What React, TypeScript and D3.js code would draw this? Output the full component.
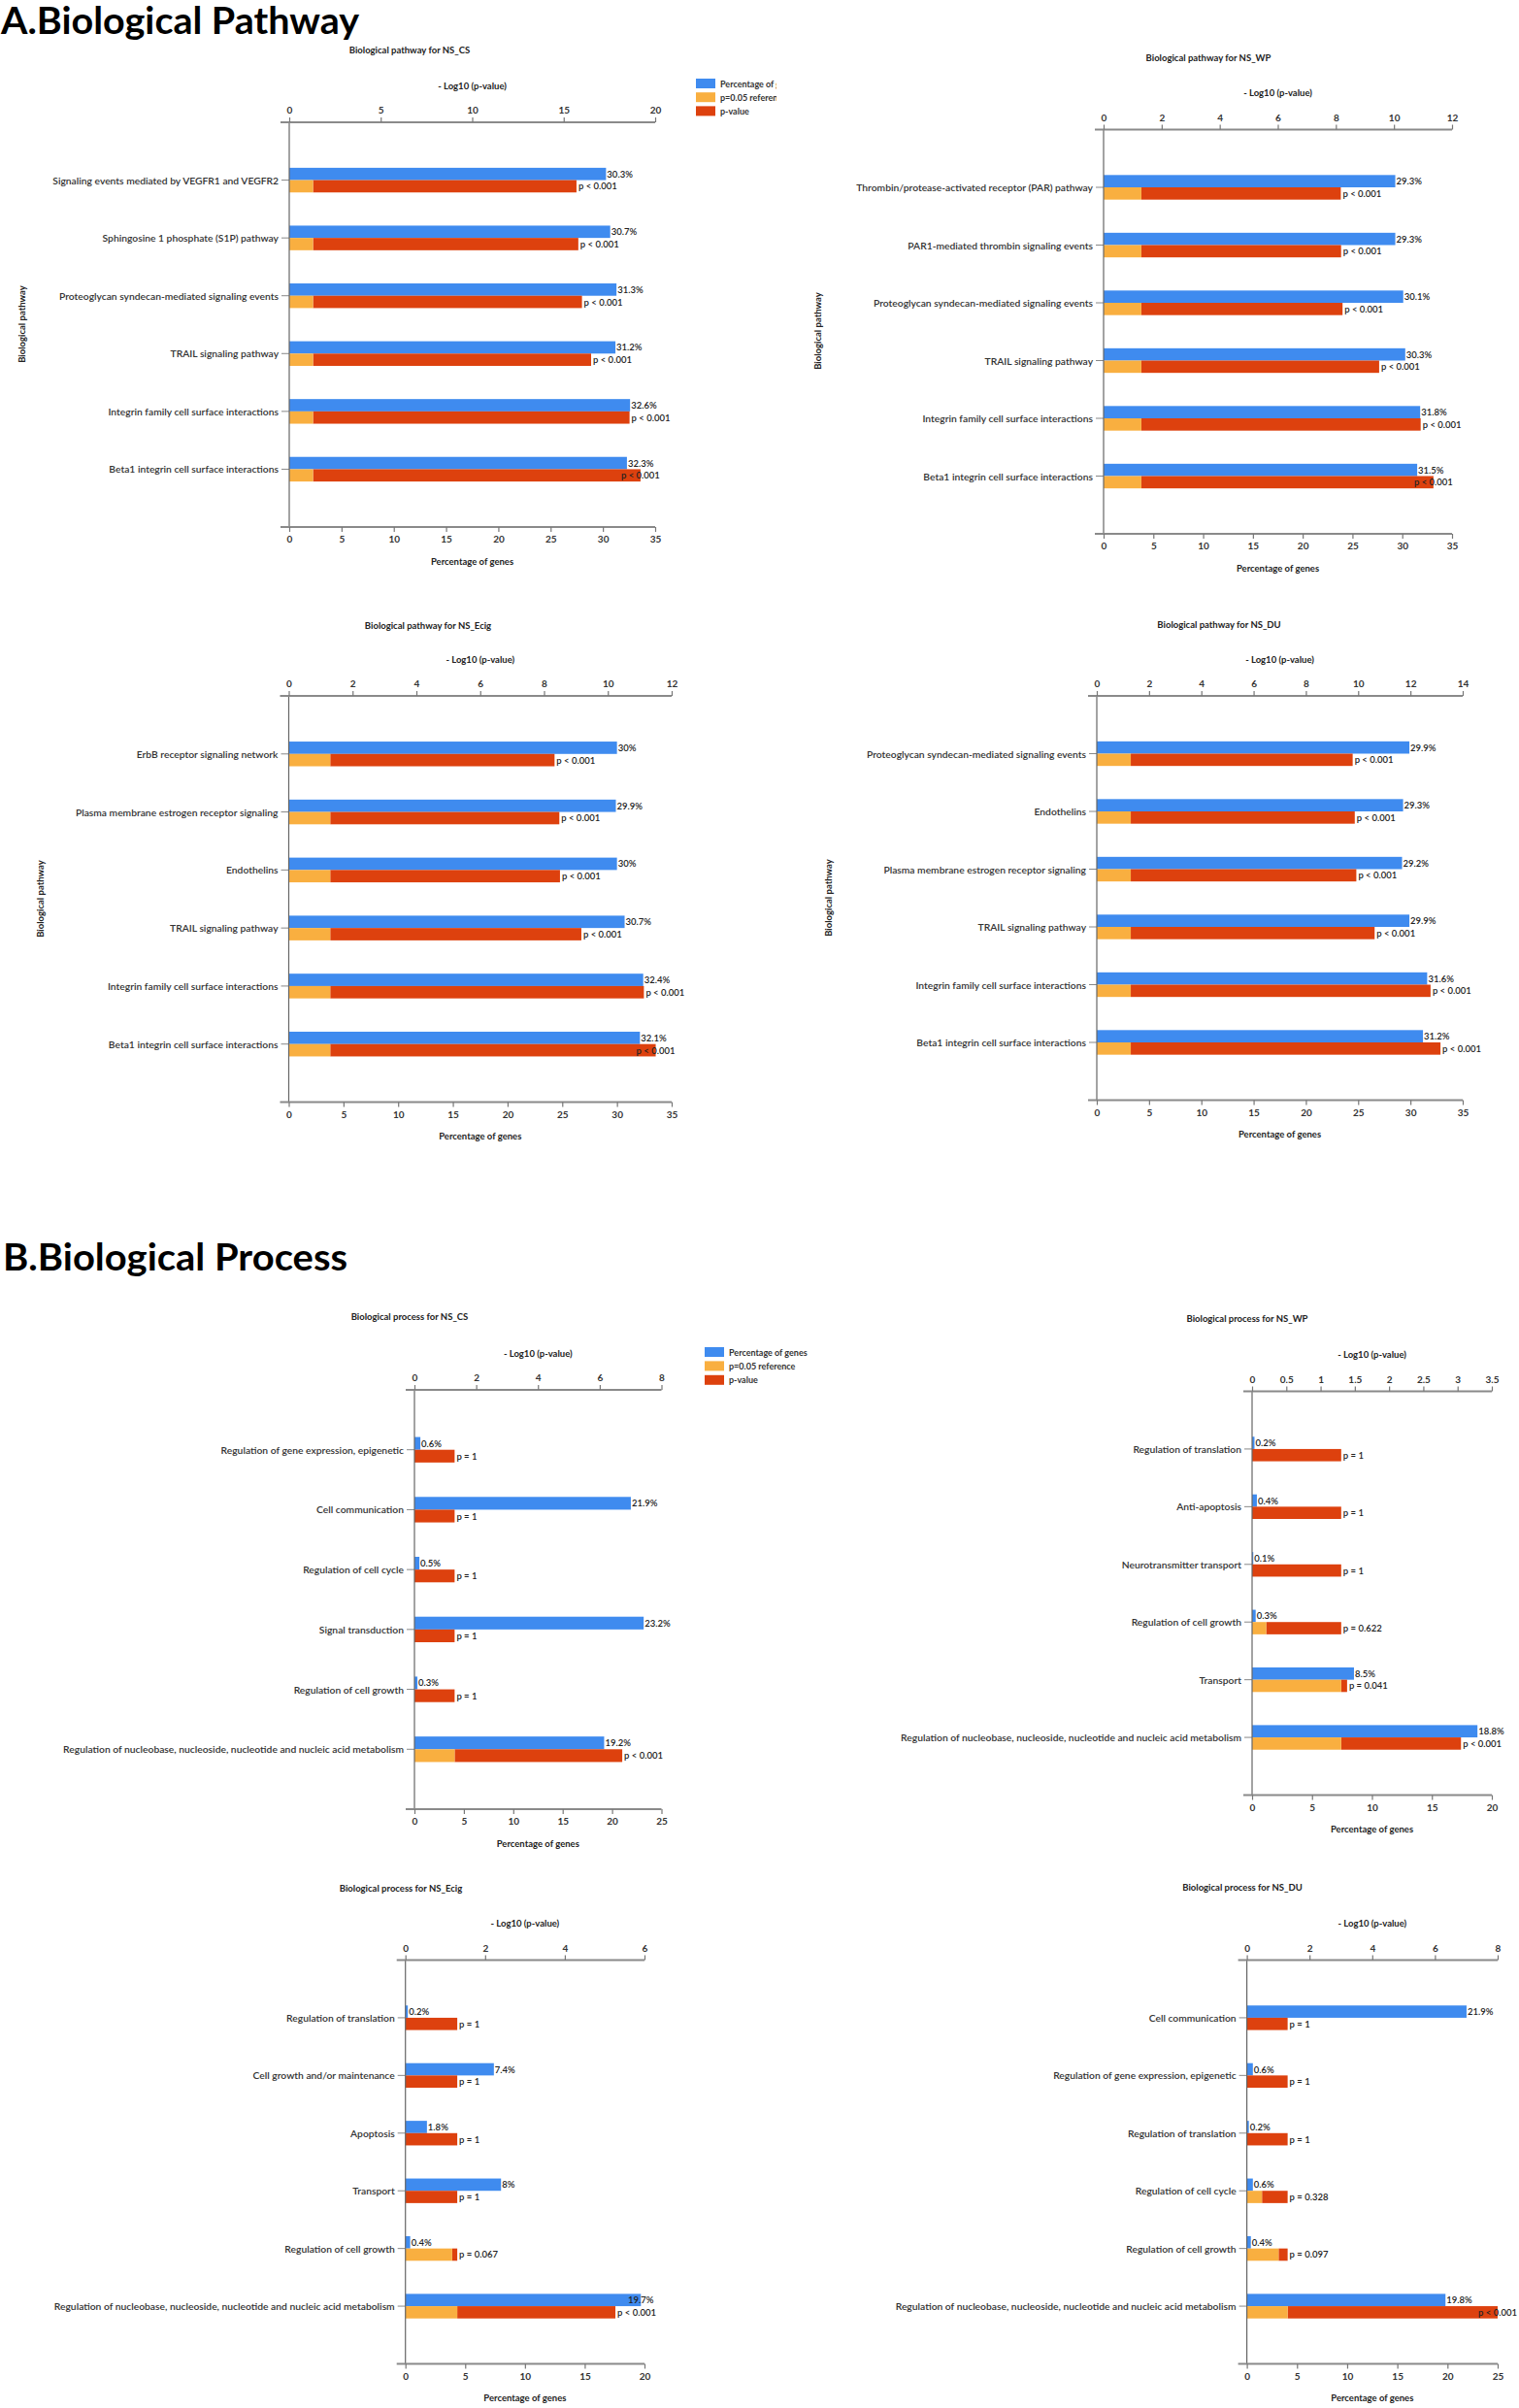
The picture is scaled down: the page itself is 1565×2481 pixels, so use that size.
import React, { useEffect, useRef } from "react";
import * as d3 from "d3";

const FONT = "Lato, 'Open Sans', sans-serif";
const REF = -Math.log10(0.05);

const BLUE = "#3F8BEF";
const ORANGE = "#F9AF40";
const RED = "#DD410E";

// ---------- DATA ----------
const pathCsTitle = "Biological pathway for NS_CS";
const pathCsCategories = [
  "Signaling events mediated by VEGFR1 and VEGFR2",
  "Sphingosine 1 phosphate (S1P) pathway",
  "Proteoglycan syndecan-mediated signaling events",
  "TRAIL signaling pathway",
  "Integrin family cell surface interactions",
  "Beta1 integrin cell surface interactions",
];
const pathCsPercent = [30.3, 30.7, 31.3, 31.2, 32.6, 32.3];
const pathCsLogP = [15.7, 15.8, 16.0, 16.5, 18.6, 19.2];
const pathCsPLabels = ["p < 0.001", "p < 0.001", "p < 0.001", "p < 0.001", "p < 0.001", "p < 0.001"];

const pathWpTitle = "Biological pathway for NS_WP";
const pathWpCategories = [
  "Thrombin/protease-activated receptor (PAR) pathway",
  "PAR1-mediated thrombin signaling events",
  "Proteoglycan syndecan-mediated signaling events",
  "TRAIL signaling pathway",
  "Integrin family cell surface interactions",
  "Beta1 integrin cell surface interactions",
];
const pathWpPercent = [29.3, 29.3, 30.1, 30.3, 31.8, 31.5];
const pathWpLogP = [8.17, 8.18, 8.23, 9.49, 10.92, 11.36];
const pathWpPLabels = ["p < 0.001", "p < 0.001", "p < 0.001", "p < 0.001", "p < 0.001", "p < 0.001"];

const pathEcigTitle = "Biological pathway for NS_Ecig";
const pathEcigCategories = [
  "ErbB receptor signaling network",
  "Plasma membrane estrogen receptor signaling",
  "Endothelins",
  "TRAIL signaling pathway",
  "Integrin family cell surface interactions",
  "Beta1 integrin cell surface interactions",
];
const pathEcigPercent = [30, 29.9, 30, 30.7, 32.4, 32.1];
const pathEcigLogP = [8.33, 8.48, 8.5, 9.17, 11.13, 11.5];
const pathEcigPLabels = ["p < 0.001", "p < 0.001", "p < 0.001", "p < 0.001", "p < 0.001", "p < 0.001"];

const pathDuTitle = "Biological pathway for NS_DU";
const pathDuCategories = [
  "Proteoglycan syndecan-mediated signaling events",
  "Endothelins",
  "Plasma membrane estrogen receptor signaling",
  "TRAIL signaling pathway",
  "Integrin family cell surface interactions",
  "Beta1 integrin cell surface interactions",
];
const pathDuPercent = [29.9, 29.3, 29.2, 29.9, 31.6, 31.2];
const pathDuLogP = [9.79, 9.87, 9.93, 10.63, 12.77, 13.15];
const pathDuPLabels = ["p < 0.001", "p < 0.001", "p < 0.001", "p < 0.001", "p < 0.001", "p < 0.001"];

const NUCLEO = "Regulation of nucleobase, nucleoside, nucleotide and nucleic acid metabolism";

const procCsTitle = "Biological process for NS_CS";
const procCsCategories = [
  "Regulation of gene expression, epigenetic",
  "Cell communication",
  "Regulation of cell cycle",
  "Signal transduction",
  "Regulation of cell growth",
  NUCLEO,
];
const procCsPercent = [0.6, 21.9, 0.5, 23.2, 0.3, 19.2];
const procCsLogP = [0, 0, 0, 0, 0, 6.73];
const procCsPLabels = ["p = 1", "p = 1", "p = 1", "p = 1", "p = 1", "p < 0.001"];

const procWpTitle = "Biological process for NS_WP";
const procWpCategories = [
  "Regulation of translation",
  "Anti-apoptosis",
  "Neurotransmitter transport",
  "Regulation of cell growth",
  "Transport",
  NUCLEO,
];
const procWpPercent = [0.2, 0.4, 0.1, 0.3, 8.5, 18.8];
const procWpLogP = [0, 0, 0, 0.206, 1.387, 3.05];
const procWpPLabels = ["p = 1", "p = 1", "p = 1", "p = 0.622", "p = 0.041", "p < 0.001"];

const procEcigTitle = "Biological process for NS_Ecig";
const procEcigCategories = [
  "Regulation of translation",
  "Cell growth and/or maintenance",
  "Apoptosis",
  "Transport",
  "Regulation of cell growth",
  NUCLEO,
];
const procEcigPercent = [0.2, 7.4, 1.8, 8, 0.4, 19.7];
const procEcigLogP = [0, 0, 0, 0, 1.174, 5.27];
const procEcigPLabels = ["p = 1", "p = 1", "p = 1", "p = 1", "p = 0.067", "p < 0.001"];

const procDuTitle = "Biological process for NS_DU";
const procDuCategories = [
  "Cell communication",
  "Regulation of gene expression, epigenetic",
  "Regulation of translation",
  "Regulation of cell cycle",
  "Regulation of cell growth",
  NUCLEO,
];
const procDuPercent = [21.9, 0.6, 0.2, 0.6, 0.4, 19.8];
const procDuLogP = [0, 0, 0, 0.484, 1.013, 8.0];
const procDuPLabels = ["p = 1", "p = 1", "p = 1", "p = 0.328", "p = 0.097", "p < 0.001"];

const legendLabels = ["Percentage of genes", "p=0.05 reference", "p-value"];
const legendColors = [BLUE, ORANGE, RED];

const panelData = [
  { title: pathCsTitle, categories: pathCsCategories, percent: pathCsPercent, logp: pathCsLogP, plabels: pathCsPLabels, yTitle: "Biological pathway" },
  { title: pathWpTitle, categories: pathWpCategories, percent: pathWpPercent, logp: pathWpLogP, plabels: pathWpPLabels, yTitle: "Biological pathway" },
  { title: pathEcigTitle, categories: pathEcigCategories, percent: pathEcigPercent, logp: pathEcigLogP, plabels: pathEcigPLabels, yTitle: "Biological pathway" },
  { title: pathDuTitle, categories: pathDuCategories, percent: pathDuPercent, logp: pathDuLogP, plabels: pathDuPLabels, yTitle: "Biological pathway" },
  { title: procCsTitle, categories: procCsCategories, percent: procCsPercent, logp: procCsLogP, plabels: procCsPLabels, yTitle: null },
  { title: procWpTitle, categories: procWpCategories, percent: procWpPercent, logp: procWpLogP, plabels: procWpPLabels, yTitle: null },
  { title: procEcigTitle, categories: procEcigCategories, percent: procEcigPercent, logp: procEcigLogP, plabels: procEcigPLabels, yTitle: null },
  { title: procDuTitle, categories: procDuCategories, percent: procDuPercent, logp: procDuLogP, plabels: procDuPLabels, yTitle: null },
];

// ---------- LAYOUT ----------
const panelLayout = [
  { x0: 298, x1: 675, topY: 126, botY: 543, topMax: 20, topStep: 5, botMax: 35, botStep: 5, titleX: 422, titleY: 51, yTitleX: 22, yTitleY: 334 },
  { x0: 1137, x1: 1496, topY: 133.5, botY: 550, topMax: 12, topStep: 2, botMax: 35, botStep: 5, titleX: 1245, titleY: 59, yTitleX: 842, yTitleY: 341 },
  { x0: 297.5, x1: 692, topY: 717, botY: 1135.5, topMax: 12, topStep: 2, botMax: 35, botStep: 5, titleX: 441, titleY: 644, yTitleX: 41, yTitleY: 926 },
  { x0: 1130, x1: 1507, topY: 717, botY: 1133.5, topMax: 14, topStep: 2, botMax: 35, botStep: 5, titleX: 1256, titleY: 643, yTitleX: 853, yTitleY: 925 },
  { x0: 427, x1: 681.5, topY: 1432, botY: 1864, topMax: 8, topStep: 2, botMax: 25, botStep: 5, titleX: 422, titleY: 1356, yTitleX: 0, yTitleY: 0 },
  { x0: 1290, x1: 1537, topY: 1433.5, botY: 1849.5, topMax: 3.5, topStep: 0.5, botMax: 20, botStep: 5, titleX: 1285, titleY: 1358, yTitleX: 0, yTitleY: 0 },
  { x0: 417.7, x1: 664, topY: 2019.5, botY: 2435.5, topMax: 6, topStep: 2, botMax: 20, botStep: 5, titleX: 413, titleY: 1945, yTitleX: 0, yTitleY: 0 },
  { x0: 1284.6, x1: 1543, topY: 2019.5, botY: 2435.5, topMax: 8, topStep: 2, botMax: 25, botStep: 5, titleX: 1280, titleY: 1944, yTitleX: 0, yTitleY: 0 },
];

const legendLayout = [
  { x: 717, y: 86, clipW: 83, gap: 14.2, sw: 20, textDx: 25 },
  { x: 726, y: 1393, clipW: 113, gap: 14.4, sw: 20, textDx: 25 },
];

function Axis({ scale, orient, y, values }: any) {
  const ref = useRef<SVGGElement>(null);
  useEffect(() => {
    const axis = (orient === "top" ? d3.axisTop(scale) : d3.axisBottom(scale))
      .tickValues(values)
      .tickFormat(d3.format("~g") as any)
      .tickSizeOuter(0)
      .tickSize(5)
      .tickPadding(4);
    const g = d3.select(ref.current as SVGGElement);
    g.call(axis as any);
    g.select(".domain").remove();
    g.attr("font-family", FONT);
    g.selectAll(".tick line").attr("stroke", "#777").attr("stroke-width", 1.2);
    g.selectAll(".tick text")
      .attr("font-family", FONT)
      .attr("font-size", 10)
      .attr("font-weight", 700)
      .attr("fill", "#333");
  }, [scale, orient, values]);
  return <g ref={ref} transform={`translate(0,${y})`} />;
}

function Panel({ data, lay }: any) {
  const xTop = d3.scaleLinear().domain([0, lay.topMax]).range([lay.x0, lay.x1]);
  const xBot = d3.scaleLinear().domain([0, lay.botMax]).range([lay.x0, lay.x1]);
  const y = d3.scalePoint<string>().domain(data.categories).range([lay.topY, lay.botY]).padding(1);
  const h = y.step() * 0.213;
  const topVals = d3.range(0, lay.topMax + lay.topStep / 2, lay.topStep);
  const botVals = d3.range(0, lay.botMax + lay.botStep / 2, lay.botStep);
  const axisMid = (lay.x0 + lay.x1) / 2;
  const txt = { fontFamily: FONT, fill: "#222" } as any;

  return (
    <g>
      <text x={lay.titleX} y={lay.titleY} textAnchor="middle" dominantBaseline="central" fontSize={9.5} fontWeight={700} style={txt}>
        {data.title}
      </text>
      <text x={axisMid} y={lay.topY - 38} textAnchor="middle" dominantBaseline="central" fontSize={9.5} fontWeight={700} style={txt}>
        - Log10 (p-value)
      </text>
      <text x={axisMid} y={lay.botY + 35} textAnchor="middle" dominantBaseline="central" fontSize={9.5} fontWeight={700} style={txt}>
        Percentage of genes
      </text>
      {data.yTitle && (
        <text
          transform={`translate(${lay.yTitleX},${lay.yTitleY}) rotate(-90)`}
          textAnchor="middle"
          dominantBaseline="central"
          fontSize={9.5}
          fontWeight={700}
          style={txt}
        >
          {data.yTitle}
        </text>
      )}

      {/* bars */}
      {data.categories.map((c: string, i: number) => {
        const cy = y(c) as number;
        const pct = data.percent[i];
        const v = data.logp[i];
        const oEnd = Math.min(v, REF);
        const rEnd = Math.max(v, REF);
        const blueEnd = xBot(pct);
        const redEnd = xTop(rEnd);
        const blueNear = pct / lay.botMax > 0.945;
        const redNear = rEnd / lay.topMax > 0.945;
        return (
          <g key={c}>
            <rect x={xBot(0)} y={cy - h} width={blueEnd - xBot(0)} height={h} fill={BLUE} />
            <rect x={xTop(oEnd)} y={cy} width={redEnd - xTop(oEnd)} height={h} fill={RED} />
            {oEnd > 0 && <rect x={xTop(0)} y={cy} width={xTop(oEnd) - xTop(0)} height={h} fill={ORANGE} />}
            <text
              x={blueNear ? blueEnd : blueEnd + 1}
              y={cy - h / 2}
              textAnchor={blueNear ? "middle" : "start"}
              dominantBaseline="central"
              fontSize={9.5}
              fontWeight={600}
              style={txt}
            >
              {`${pct}%`}
            </text>
            <text
              x={redNear ? redEnd : redEnd + 2}
              y={cy + h / 2}
              textAnchor={redNear ? "middle" : "start"}
              dominantBaseline="central"
              fontSize={9.5}
              fontWeight={600}
              style={txt}
            >
              {data.plabels[i]}
            </text>
            <line x1={lay.x0 - 8} x2={lay.x0} y1={cy} y2={cy} stroke="#888" strokeWidth={1} />
            <text x={lay.x0 - 11} y={cy} textAnchor="end" dominantBaseline="central" fontSize={10.3} fontWeight={600} style={{ fontFamily: FONT, fill: "#333" }}>
              {c}
            </text>
          </g>
        );
      })}

      {/* axes */}
      <line x1={lay.x0} x2={lay.x0} y1={lay.topY} y2={lay.botY} stroke="#666" strokeWidth={1.2} />
      <line x1={lay.x0 - 9} x2={lay.x1} y1={lay.topY} y2={lay.topY} stroke="#8a8a8a" strokeWidth={1.8} />
      <line x1={lay.x0 - 9} x2={lay.x1} y1={lay.botY} y2={lay.botY} stroke="#8a8a8a" strokeWidth={1.8} />
      <Axis scale={xTop} orient="top" y={lay.topY} values={topVals} />
      <Axis scale={xBot} orient="bottom" y={lay.botY} values={botVals} />
    </g>
  );
}

function Legend({ lay, id }: any) {
  return (
    <g>
      <defs>
        <clipPath id={id}>
          <rect x={lay.x} y={lay.y - 10} width={lay.clipW} height={lay.gap * 3 + 10} />
        </clipPath>
      </defs>
      <g clipPath={`url(#${id})`}>
        {legendLabels.map((l, i) => (
          <g key={l}>
            <rect x={lay.x} y={lay.y + i * lay.gap - 5} width={lay.sw} height={10} fill={legendColors[i]} />
            <text
              x={lay.x + lay.textDx}
              y={lay.y + i * lay.gap}
              dominantBaseline="central"
              fontSize={9}
              fontWeight={700}
              style={{ fontFamily: FONT, fill: "#333" }}
            >
              {l}
            </text>
          </g>
        ))}
      </g>
    </g>
  );
}

export default function App() {
  return (
    <svg
      width={1565}
      height={2481}
      style={{ position: "absolute", left: 0, top: 0, background: "#fff", display: "block" }}
    >
      <rect x={0} y={0} width={1565} height={2481} fill="#fff" />
      <text x={1} y={35} fontSize={39} fontWeight={700} textLength={369} lengthAdjust="spacingAndGlyphs" style={{ fontFamily: FONT, fill: "#000" }}>
        A.Biological Pathway
      </text>
      <text x={3} y={1309} fontSize={39} fontWeight={700} textLength={355} lengthAdjust="spacingAndGlyphs" style={{ fontFamily: FONT, fill: "#000" }}>
        B.Biological Process
      </text>
      {panelData.map((d, i) => (
        <Panel key={i} data={d} lay={panelLayout[i]} />
      ))}
      <Legend lay={legendLayout[0]} id="legA" />
      <Legend lay={legendLayout[1]} id="legB" />
    </svg>
  );
}
